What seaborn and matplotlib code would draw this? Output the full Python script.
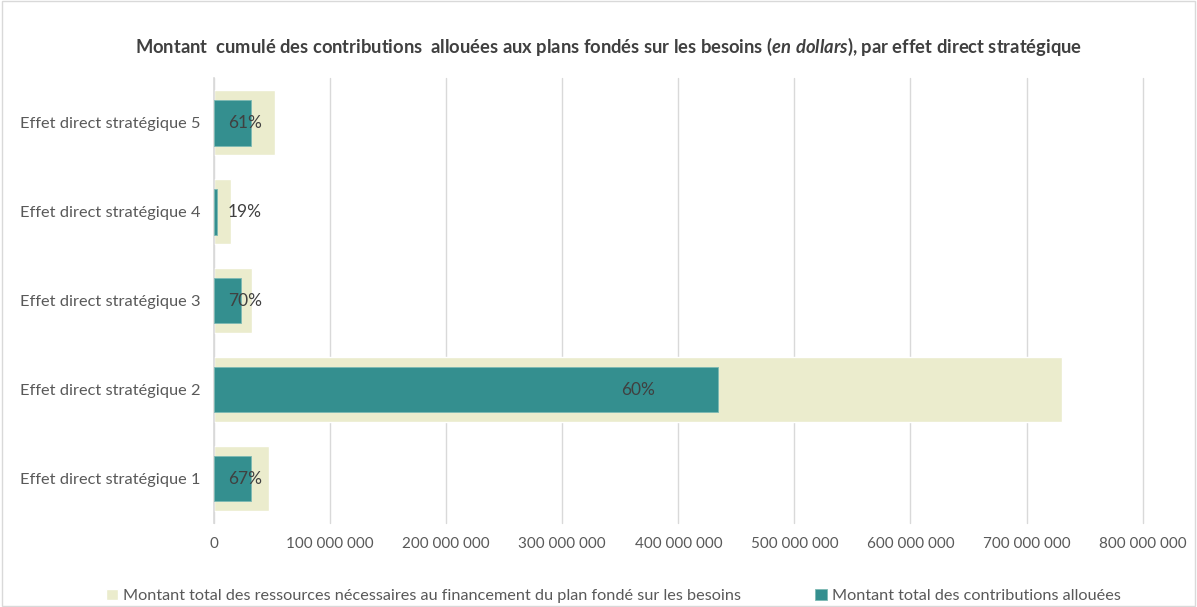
import matplotlib.pyplot as plt
import matplotlib.ticker as mticker
from matplotlib.patches import Rectangle
import seaborn as sns
import pandas as pd

categories = ['Effet direct stratégique 1', 'Effet direct stratégique 2',
              'Effet direct stratégique 3', 'Effet direct stratégique 4',
              'Effet direct stratégique 5']
besoins = [47_200_000, 730_200_000, 32_800_000, 14_700_000, 52_600_000]
alloue = [31_700_000, 434_400_000, 23_100_000, 2_800_000, 31_700_000]
pourcent = [67, 60, 70, 19, 61]

order = categories[::-1]
df = pd.DataFrame({'cat': categories, 'besoins': besoins, 'alloue': alloue, 'pct': pourcent})

light = '#EBECCD'
dark = '#348F8F'
txt = '#595959'

sns.set_style('white')
plt.rcParams['font.family'] = ['Lato', 'DejaVu Sans']
plt.rcParams['mathtext.fontset'] = 'custom'
plt.rcParams['mathtext.it'] = 'Lato:italic:bold'
plt.rcParams['mathtext.rm'] = 'Lato:bold'

fig = plt.figure(figsize=(11.97, 6.07), dpi=100)
ax = fig.add_axes([0.1788, 0.1384, 0.7758, 0.7323])

sns.barplot(data=df, x='besoins', y='cat', order=order, color=light, width=0.73,
            saturation=1, ax=ax, zorder=2,
            label='Montant total des ressources nécessaires au financement du plan fondé sur les besoins')
sns.barplot(data=df, x='alloue', y='cat', order=order, color=dark, width=0.51,
            saturation=1, ax=ax, zorder=3, edgecolor='#7DB9B3', linewidth=0.6,
            label='Montant total des contributions allouées')

# labels: centred on wide bars, near the base on short ones
for i, cat in enumerate(order):
    row = df[df['cat'] == cat].iloc[0]
    if row['besoins'] > 200_000_000:
        xpos, ha = row['besoins'] / 2, 'center'
    else:
        xpos, ha = 12_000_000, 'left'
    ax.text(xpos, i, f"{row['pct']}%", ha=ha, va='center',
            fontsize=12.5, color='#404040', zorder=4)

ax.set_xlim(0, 800_000_000)
ax.xaxis.set_major_locator(mticker.MultipleLocator(100_000_000))
ax.xaxis.set_major_formatter(mticker.FuncFormatter(
    lambda v, p: '0' if v == 0 else f'{int(v):,}'.replace(',', ' ')))
ax.grid(True, axis='x', color='#D9D9D9', linewidth=1, zorder=0)
for gl in ax.xaxis.get_gridlines():
    gl.set_clip_on(False)
ax.set_axisbelow(True)
for s in ['top', 'right', 'bottom']:
    ax.spines[s].set_visible(False)
ax.spines['left'].set_color('#D9D9D9')
ax.spines['left'].set_linewidth(1.2)
ax.set_xlabel('')
ax.set_ylabel('')
ax.tick_params(axis='both', length=0, colors=txt, pad=10)
ax.tick_params(axis='x', labelsize=11)
ax.tick_params(axis='y', labelsize=11.8)

fig.suptitle('Montant  cumulé des contributions  allouées aux plans fondés sur les besoins ($\\it{en\\ dollars}$), par effet direct stratégique',
             x=0.508, y=0.94, fontsize=13.2, fontweight='bold', color='#404040')

handles, labels = ax.get_legend_handles_labels()
if ax.get_legend() is not None:
    ax.get_legend().remove()
leg = fig.legend(handles, labels, loc='center', bbox_to_anchor=(0.5125, 0.018),
                 ncol=2, frameon=False, fontsize=11.7, handlelength=0.7, handleheight=0.7,
                 handletextpad=0.3, columnspacing=4.6)
for t in leg.get_texts():
    t.set_color(txt)

fig.patches.append(Rectangle((0.002, 0.002), 0.996, 0.996, transform=fig.transFigure,
                             fill=False, edgecolor='#D9D9D9', linewidth=1))

plt.savefig('out.png', dpi=100)
plt.close()
